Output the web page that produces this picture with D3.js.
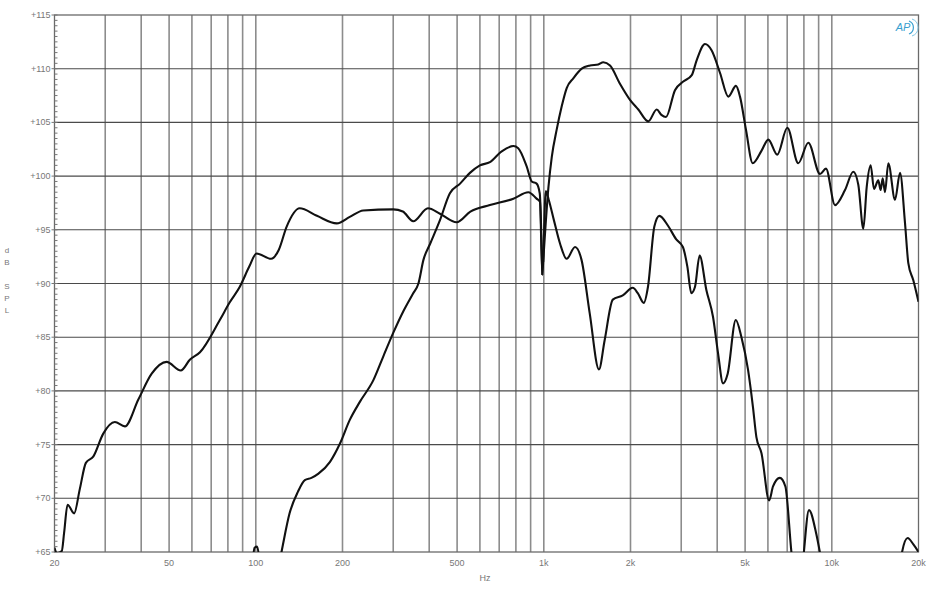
<!DOCTYPE html>
<html><head><meta charset="utf-8">
<script src="https://cdn.jsdelivr.net/npm/d3@7"></script>
<style>body{margin:0;background:#fff}svg{display:block}</style>
</head><body><svg id="c" width="935" height="600"></svg>
<script>
// ---- data (frequency Hz, dB SPL) ----
const xTickFreqs = [20, 50, 100, 200, 500, 1000, 2000, 5000, 10000, 20000];
const xTickLabels = ["20", "50", "100", "200", "500", "1k", "2k", "5k", "10k", "20k"];
const yTickValues = [65, 70, 75, 80, 85, 90, 95, 100, 105, 110, 115];
const yTickLabels = ["+65", "+70", "+75", "+80", "+85", "+90", "+95", "+100", "+105", "+110", "+115"];

const wooferFreq = [20, 20.4, 21.2, 21.6, 22.2, 23.4, 24.5, 25.7, 27.3, 29.5, 32.4, 35.1, 39.1, 43.5, 49, 54.9, 59, 64, 75, 81, 88, 95, 100.6, 113, 120, 128, 142, 163, 191, 212, 236, 300, 324, 352, 396, 436, 498, 556, 650, 784, 884, 944, 970, 988, 1016, 1040, 1084, 1139, 1200, 1284, 1352, 1444, 1554, 1626, 1736, 1880, 2036, 2120, 2224, 2300, 2420, 2520, 2696, 2884, 3040, 3150, 3252, 3350, 3476, 3668, 3868, 4028, 4192, 4350, 4640, 4856, 5116, 5324, 5472, 5700, 6060, 6250, 6600, 6900, 7240, 7500, 7800, 8000, 8332, 8830, 9060, 9500, 12000, 17000, 17540, 18340, 19200, 20000];
const wooferDb = [65.4, 64.9, 65.1, 66.8, 69.4, 68.6, 70.9, 73.3, 73.9, 76.0, 77.1, 76.7, 79.2, 81.6, 82.7, 81.9, 82.9, 83.6, 86.6, 88.2, 89.7, 91.6, 92.8, 92.3, 93.1, 95.3, 97.0, 96.3, 95.6, 96.2, 96.8, 96.9, 96.7, 95.8, 97.0, 96.5, 95.7, 96.7, 97.3, 97.9, 98.5, 97.9, 97.6, 90.8, 98.6, 97.8, 95.9, 93.7, 92.3, 93.4, 92.2, 87.2, 82.0, 84.7, 88.5, 88.9, 89.6, 89.1, 88.2, 89.7, 95.3, 96.3, 95.4, 94.1, 93.4, 91.6, 89.1, 89.7, 92.6, 89.4, 86.9, 83.5, 80.7, 81.6, 86.6, 85.0, 82.0, 78.5, 75.7, 74.2, 69.8, 71.1, 71.9, 71.1, 65.0, 61.5, 61.5, 65.0, 68.9, 66.7, 65.2, 62, 60, 62, 65.0, 66.3, 65.7, 65.0];

const midFreq = [90, 97, 99, 101, 104, 112, 123, 131, 140, 148, 156, 165, 181, 196, 212, 230, 256, 277, 300, 325, 352, 367, 382, 403, 436, 472, 512, 554, 600, 650, 714, 784, 815, 872, 908, 944, 968, 988];
const midDb = [60, 63.5, 65.4, 65.5, 63.5, 59.5, 65.1, 68.6, 70.6, 71.7, 71.9, 72.3, 73.4, 75.1, 77.3, 79.0, 81.0, 83.2, 85.4, 87.4, 89.1, 90.0, 92.2, 93.7, 95.9, 98.4, 99.3, 100.3, 101.0, 101.3, 102.3, 102.8, 102.6, 100.9, 99.5, 99.3, 98.4, 90.8];

const tweeterFreq = [995, 1038, 1066, 1108, 1154, 1201, 1266, 1354, 1447, 1546, 1609, 1698, 1838, 1992, 2129, 2306, 2466, 2560, 2656, 2854, 3050, 3264, 3396, 3628, 3828, 4092, 4372, 4648, 4800, 5036, 5314, 5710, 6018, 6466, 7006, 7648, 8288, 9100, 9546, 10258, 11112, 11874, 12360, 12868, 13220, 13646, 14012, 14500, 14780, 15020, 15300, 15710, 16576, 17254, 17958, 18436, 19188, 20000];
const tweeterDb = [92.0, 99.0, 101.8, 104.3, 106.5, 108.2, 109.1, 110.0, 110.3, 110.4, 110.6, 110.3, 108.6, 107.1, 106.2, 105.1, 106.2, 105.7, 105.5, 108.0, 108.8, 109.4, 110.8, 112.3, 111.7, 109.6, 107.4, 108.4, 107.4, 104.3, 101.2, 102.4, 103.4, 102.0, 104.5, 101.2, 103.1, 100.2, 100.7, 97.3, 98.7, 100.4, 99.2, 95.1, 99.0, 101.0, 98.8, 99.6, 98.7, 99.8, 98.5, 101.2, 97.8, 100.3, 95.6, 91.9, 90.3, 88.3];

// ---- drawing ----
const svg = d3.select("#c");
const L = 54.5, R = 918.5, T = 15, B = 552;
const x = d3.scaleLog().domain([20, 20000]).range([L, R]);
const y = d3.scaleLinear().domain([65, 115]).range([B, T]);
const font = "'Liberation Sans', Arial, sans-serif";

svg.append("defs").append("clipPath").attr("id", "plot")
  .append("rect").attr("x", L).attr("y", T).attr("width", R - L).attr("height", B - T);

// vertical grid
const vGrid = [];
[10, 100, 1000, 10000].forEach(d => { for (let k = 1; k <= 9; k++) { const f = d * k; if (f > 20 && f < 20000) vGrid.push(f); } });
svg.append("g").selectAll("line").data(vGrid).join("line")
  .attr("x1", d => x(d)).attr("x2", d => x(d)).attr("y1", T).attr("y2", B)
  .attr("stroke", "#8c8c8c").attr("stroke-width", 1.6);

// horizontal grid
svg.append("g").selectAll("line").data(yTickValues.slice(1, -1)).join("line")
  .attr("x1", L).attr("x2", R).attr("y1", d => y(d)).attr("y2", d => y(d))
  .attr("stroke", "#4a4a4a").attr("stroke-width", 1.1);

// frame
svg.append("rect").attr("x", L).attr("y", T).attr("width", R - L).attr("height", B - T)
  .attr("fill", "none").attr("stroke", "#6a6a6a").attr("stroke-width", 1.3);

// y axis minor ticks (0.5 dB) inside
const minor = d3.range(65, 115.01, 0.5);
svg.append("g").selectAll("line").data(minor).join("line")
  .attr("x1", L).attr("x2", L + 3).attr("y1", d => y(d)).attr("y2", d => y(d))
  .attr("stroke", "#777").attr("stroke-width", 1);
svg.append("g").selectAll("line").data(yTickValues).join("line")
  .attr("x1", L - 3).attr("x2", L).attr("y1", d => y(d)).attr("y2", d => y(d))
  .attr("stroke", "#777").attr("stroke-width", 1);

// y labels
svg.append("g").selectAll("text").data(yTickValues).join("text")
  .attr("x", L - 4).attr("y", d => y(d) + 3).attr("text-anchor", "end")
  .attr("font-family", font).attr("font-size", 9).attr("fill", "#777")
  .text((d, i) => yTickLabels[i]);

// x labels
svg.append("g").selectAll("text").data(xTickFreqs).join("text")
  .attr("x", d => x(d)).attr("y", 566).attr("text-anchor", "middle")
  .attr("font-family", font).attr("font-size", 9).attr("fill", "#777")
  .text((d, i) => xTickLabels[i]);

svg.append("text").attr("x", 485).attr("y", 581).attr("text-anchor", "middle")
  .attr("font-family", font).attr("font-size", 9).attr("fill", "#777").text("Hz");

// vertical "dB SPL"
const yl = svg.append("text").attr("font-family", font).attr("font-size", 8).attr("fill", "#777").attr("text-anchor", "middle");
[["d", 253], ["B", 265], ["S", 289], ["P", 301], ["L", 313]].forEach(([c, yy]) =>
  yl.append("tspan").attr("x", 7).attr("y", yy).text(c));

// AP logo
const logo = svg.append("g").attr("transform", "translate(903,31)");
logo.append("text").attr("x", 0).attr("y", 0).attr("text-anchor", "middle")
  .attr("font-family", font).attr("font-style", "italic").attr("font-size", 11)
  .attr("fill", "#3a9fd0").text("AP");
logo.append("path").attr("d", "M6,-10 A7,7 0 0 1 6,3").attr("fill", "none").attr("stroke", "#3a9fd0").attr("stroke-width", 1.2);
logo.append("path").attr("d", "M9,-12 A9,9 0 0 1 9,5").attr("fill", "none").attr("stroke", "#7cc4e4").attr("stroke-width", 1);

// curves
const line = d3.line().x(d => x(d[0])).y(d => y(d[1])).curve(d3.curveMonotoneX);
const series = [
  wooferFreq.map((f, i) => [f, wooferDb[i]]),
  midFreq.map((f, i) => [f, midDb[i]]),
  tweeterFreq.map((f, i) => [f, tweeterDb[i]])
];
svg.append("g").attr("clip-path", "url(#plot)").selectAll("path").data(series).join("path")
  .attr("d", line).attr("fill", "none").attr("stroke", "#111").attr("stroke-width", 2.1)
  .attr("stroke-linejoin", "round");
</script></body></html>
